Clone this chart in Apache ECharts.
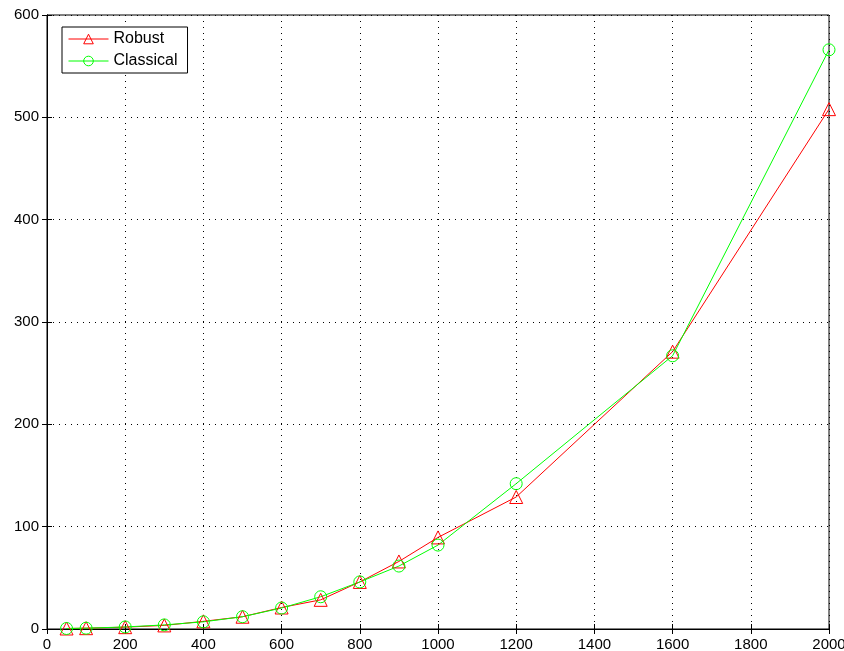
<!DOCTYPE html>
<html><head><meta charset="utf-8">
<script src="https://cdn.jsdelivr.net/npm/echarts@6/dist/echarts.min.js"></script>
<style>html,body{margin:0;padding:0;background:#fff}#c{width:844px;height:651px}</style>
</head><body><div id="c"></div>
<script>
var xValues = [50, 100, 200, 300, 400, 500, 600, 700, 800, 900, 1000, 1200, 1600, 2000];
var robust = [0.5, 0.8, 1.8, 3.5, 7.5, 12, 21, 28.5, 46, 66, 89.5, 129, 271, 508];
var classical = [0.5, 0.8, 2, 4, 7, 12, 20.5, 31.5, 46, 61.5, 82, 142, 267, 566];
var seriesNames = ['Robust', 'Classical'];

function pairs(ys){ return xValues.map(function(x,i){ return [x, ys[i]]; }); }
var font = 'Liberation Sans, Arial, sans-serif';
var chart = echarts.init(document.getElementById('c'));
var splitDot = {show:true, lineStyle:{color:'#000', type:[1,5], width:1}};
function plain(v){ return String(v); }
chart.setOption({
  animation:false,
  grid:{left:47, right:15, top:15, bottom:22, show:true, borderColor:'#000', borderWidth:1, containLabel:false, outerBoundsMode:'none'},
  legend:{
    data:seriesNames, orient:'vertical', left:62, top:27,
    itemWidth:40, itemHeight:12, itemGap:6,
    borderColor:'#000', borderWidth:1, padding:[4,10,4,6],
    backgroundColor:'#fff',
    lineStyle:{width:1},
    itemStyle:{borderWidth:1},
    textStyle:{fontFamily:font, fontSize:16, color:'#000'}
  },
  xAxis:[{
    type:'value', min:0, max:2000, interval:200,
    axisLine:{show:true, lineStyle:{color:'#000'}},
    axisTick:{show:true, inside:true, length:5, lineStyle:{color:'#000'}},
    axisLabel:{fontFamily:font, fontSize:15, color:'#000', margin:8, formatter:plain},
    splitLine:splitDot
  },{
    type:'value', min:0, max:2000, interval:200, position:'top',
    axisLine:{show:true, lineStyle:{color:'#000'}},
    axisTick:{show:true, inside:true, length:5, lineStyle:{color:'#000'}},
    axisLabel:{show:false}, splitLine:{show:false}
  }],
  yAxis:[{
    type:'value', min:0, max:600, interval:100,
    axisLine:{show:true, lineStyle:{color:'#000'}},
    axisTick:{show:true, inside:true, length:5, lineStyle:{color:'#000'}},
    axisLabel:{fontFamily:font, fontSize:15, color:'#000', margin:8, formatter:plain},
    splitLine:splitDot
  },{
    type:'value', min:0, max:600, interval:100, position:'right',
    axisLine:{show:true, lineStyle:{color:'#000'}},
    axisTick:{show:true, inside:true, length:5, lineStyle:{color:'#000'}},
    axisLabel:{show:false}, splitLine:{show:false}
  }],
  series:[{
    name:seriesNames[0], type:'line', data:pairs(robust), clip:false,
    symbol:'triangle', symbolSize:13, showAllSymbol:true,
    lineStyle:{color:'#ff0000', width:1},
    itemStyle:{color:'rgba(255,255,255,0)', borderColor:'#ff0000', borderWidth:1},
    emphasis:{disabled:true}
  },{
    name:seriesNames[1], type:'line', data:pairs(classical), clip:false,
    symbol:'circle', symbolSize:12, showAllSymbol:true,
    lineStyle:{color:'#00ff00', width:1},
    itemStyle:{color:'rgba(255,255,255,0)', borderColor:'#00ff00', borderWidth:1},
    emphasis:{disabled:true}
  }]
});
</script></body></html>
